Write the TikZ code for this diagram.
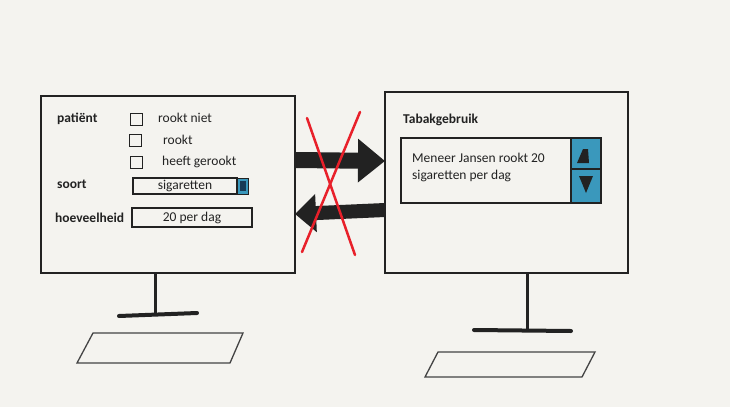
\documentclass[tikz,border=0pt]{standalone}
\usepackage{fontspec}
\setmainfont{Carlito}
\usetikzlibrary{arrows.meta}
\definecolor{bg}{HTML}{F4F3EF}
\definecolor{ink}{HTML}{222222}
\definecolor{scrollblue}{HTML}{3A98BC}
\definecolor{darkblue}{HTML}{173A55}
\definecolor{xred}{HTML}{E8202A}
\begin{document}
\begin{tikzpicture}[x=1pt,y=-1pt,
  monitor/.style={draw=ink,line width=1.8pt,anchor=north west,inner sep=0,outer sep=0},
  field/.style={draw=ink,line width=1.2pt,anchor=north west,inner sep=0,outer sep=0},
  chk/.style={draw=ink,line width=1.2pt,minimum width=12pt,minimum height=12pt,inner sep=0,outer sep=0},
  lbl/.style={anchor=west,inner sep=0,font=\fontsize{13.5}{16}\selectfont\bfseries,text=ink},
  txt/.style={anchor=west,inner sep=0,font=\fontsize{13.5}{17}\selectfont,text=ink},
  stem/.style={draw=ink,line width=3pt},
  foot/.style={draw=ink,line width=4pt,line cap=round},
  kbd/.style={draw=ink!85,line width=1.3pt},
  blockarrow/.style={draw=ink,line width=#1}
]
\useasboundingbox[fill=bg] (0,0) rectangle (730,407);

% monitors
\node[monitor,minimum width=254pt,minimum height=177pt] (lmon) at (41,96) {};
\node[monitor,minimum width=243pt,minimum height=181pt] (rmon) at (385,92) {};

% stands
\coordinate (lstemtop) at (155,273);
\coordinate (lstembot) at (155,314);
\draw[stem] (lstemtop) -- (lstembot);
\coordinate (lfootl) at (119,316);
\coordinate (lfootr) at (197,313);
\draw[foot] (lfootl) -- (lfootr);
\coordinate (rstemtop) at (527,273);
\coordinate (rstembot) at (527,331);
\draw[stem] (rstemtop) -- (rstembot);
\coordinate (rfootl) at (474,330);
\coordinate (rfootr) at (571,331);
\draw[foot] (rfootl) -- (rfootr);

% keyboards
\draw[kbd] (93,333) -- (243,333) -- (230,363) -- (77,363) -- cycle;
\draw[kbd] (438,352) -- (595,352) -- (582,377) -- (425,377) -- cycle;

% left screen content
\node[lbl] (patient) at (57,119) {patiënt};
\node[chk] (c1) at (136.5,119.5) {};
\node[chk] (c2) at (135.5,140.5) {};
\node[chk] (c3) at (136.5,162.5) {};
\node[txt] (t1) at (158,118) {rookt niet};
\node[txt] (t2) at (163,140) {rookt};
\node[txt] (t3) at (162,162) {heeft gerookt};
\node[lbl] (soort) at (57,184) {soort};
\node[field,minimum width=104pt,minimum height=16pt] (sig) at (133,178) {};
\node[txt,anchor=center] (sigt) at (185,186) {sigaretten};
\node[draw=ink,line width=0.8pt,fill=scrollblue,anchor=north west,minimum width=11pt,minimum height=16pt,inner sep=0,outer sep=0] (sigbtn) at (237,178) {};
\node[fill=darkblue,minimum width=6pt,minimum height=10pt,inner sep=0] (sigdot) at (sigbtn.center) {};
\node[lbl] (hoev) at (55,218) {hoeveelheid};
\node[field,minimum width=120pt,minimum height=19pt] (dag) at (132,208) {};
\node[txt,anchor=center] (dagt) at (dag.center) {20 per dag};

% right screen content
\node[lbl] (tabak) at (403,120) {Tabakgebruik};
\node[field,minimum width=170pt,minimum height=65pt] (box) at (401,138) {};
\node[txt,align=left,anchor=north west] (msg) at (412,153) {Meneer Jansen rookt 20\\sigaretten per dag};
\node[draw=ink,line width=1.2pt,fill=scrollblue,anchor=north west,minimum width=30pt,minimum height=31pt,inner sep=0,outer sep=0] (up) at (571,138) {};
\node[draw=ink,line width=1.2pt,fill=scrollblue,anchor=north west,minimum width=30pt,minimum height=34pt,inner sep=0,outer sep=0] (down) at (571,169) {};
\fill[ink] (577,163) -- (589,163) -- (588,149) -- (583,149) -- cycle;
\fill[ink] (579,176) -- (593,176) -- (586,193) -- cycle;

% block arrows
\coordinate (a1s) at (lmon.east |- 0,160);
\coordinate (a1e) at (rmon.west |- 0,161);
\draw[blockarrow=16pt,-{Triangle[length=27pt,width=42pt]}] (a1s) -- (a1e);
\coordinate (a2s) at (rmon.west |- 0,210);
\coordinate (a2e) at (lmon.east |- 0,214);
\draw[blockarrow=14pt,-{Triangle[length=21pt,width=37pt]}] (a2s) -- (a2e);

% red cross
\coordinate (x1a) at (307,118);
\coordinate (x1b) at (355,255);
\coordinate (x2a) at (360,112);
\coordinate (x2b) at (302,252);
\draw[xred,line width=2.5pt,line cap=round] (x1a) -- (x1b);
\draw[xred,line width=2.5pt,line cap=round] (x2a) -- (x2b);
\end{tikzpicture}
\end{document}
